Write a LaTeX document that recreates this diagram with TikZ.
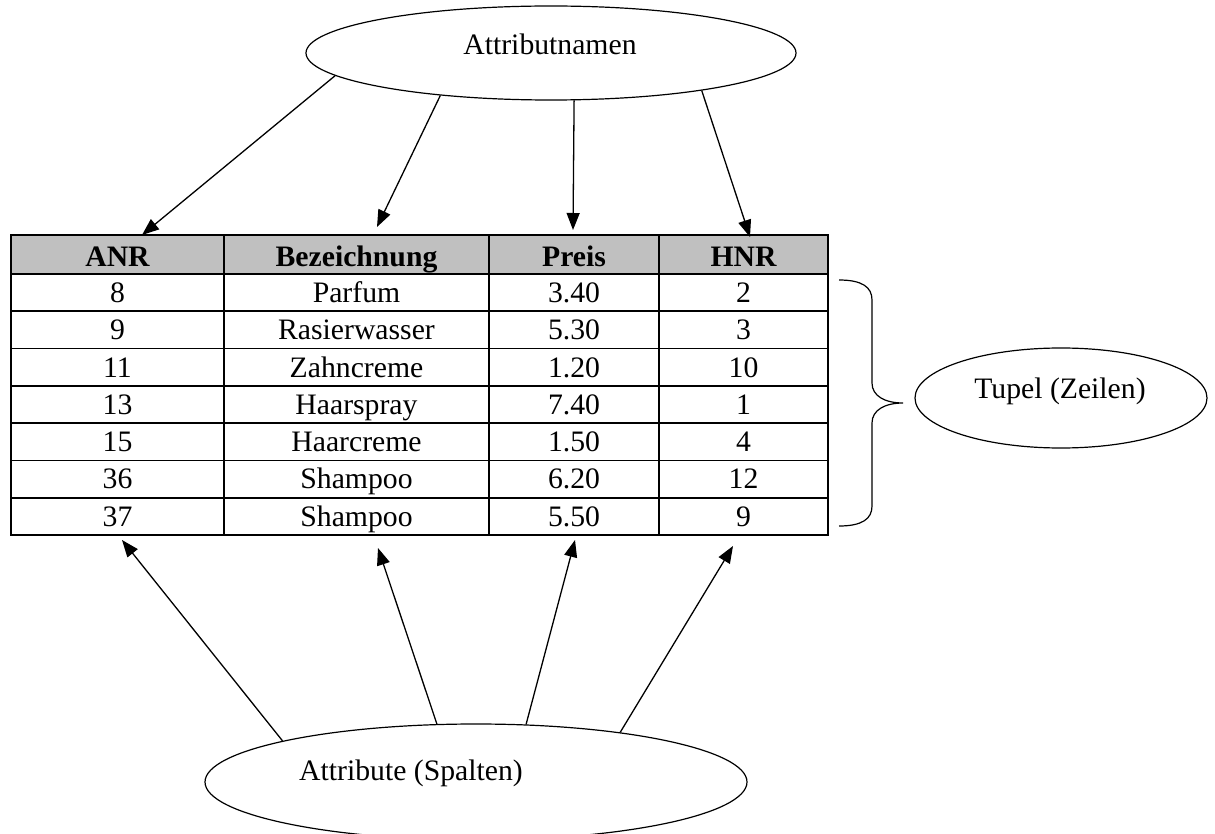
\documentclass[tikz,border=0pt]{standalone}
\usepackage{fontspec}
\setmainfont{Liberation Serif}
\usetikzlibrary{shapes.geometric,arrows.meta}
\definecolor{headgray}{RGB}{192,192,192}
\begin{document}
\begin{tikzpicture}[x=0.5pt,y=-0.5pt,
  font=\fontsize{14.85}{17}\selectfont,
  oval/.style={draw,ellipse,line width=0.6pt,inner sep=0pt},
  pointer/.style={-{Triangle[length=8.5pt,width=6.5pt]},line width=0.65pt},
  caption/.style={anchor=base,inner sep=0pt},
  cell/.style={anchor=base,inner sep=0pt},
  head/.style={cell,font=\fontsize{14.85}{17}\selectfont\bfseries},
  gridline/.style={line width=0.8pt},
  frame/.style={line width=1pt}]
\useasboundingbox (0,0) rectangle (1215,834);

% table: header background, grid and frame
\fill[headgray] (11,235) rectangle (828,274);
\foreach \i in {0,...,6}
  \draw[gridline] (11,{274+37.29*\i}) -- (828,{274+37.29*\i});
\foreach \x in {224,489,659}
  \draw[gridline] (\x,235) -- (\x,535);
\draw[frame] (11,235) rectangle (828,535);

% header row
\node[head] (hA) at (117.5,267) {ANR};
\node[head] (hB) at (356.5,267) {Bezeichnung};
\node[head] (hC) at (574,267) {Preis};
\node[head] (hD) at (743.5,267) {HNR};

% data rows
\foreach \n/\a/\b/\c/\d in {1/8/Parfum/3.40/2, 2/9/Rasierwasser/5.30/3,
    3/11/Zahncreme/1.20/10, 4/13/Haarspray/7.40/1, 5/15/Haarcreme/1.50/4,
    6/36/Shampoo/6.20/12, 7/37/Shampoo/5.50/9} {
  \node[cell] (r\n a) at (117.5,{274+37.29*(\n-0.5)+9.8}) {\a};
  \node[cell] (r\n b) at (356.5,{274+37.29*(\n-0.5)+9.8}) {\b};
  \node[cell] (r\n c) at (574,{274+37.29*(\n-0.5)+9.8}) {\c};
  \node[cell] (r\n d) at (743.5,{274+37.29*(\n-0.5)+9.8}) {\d};
}

% ovals with their captions
\node[oval,minimum width=245pt,minimum height=47pt] (names) at (551,53) {};
\node[caption] (namesText) at (550,55) {Attributnamen};
\node[oval,minimum width=146pt,minimum height=50pt] (tuples) at (1061,398) {};
\node[caption] (tuplesText) at (1060,398) {Tupel (Zeilen)};
\node[oval,minimum width=271pt,minimum height=58pt] (attrs) at (476,782) {};
\node[caption] (attrsText) at (411,780) {Attribute (Spalten)};

% arrow tips at the column heads
\coordinate (tA) at (142,235);
\coordinate (tB) at (377,227);
\coordinate (tC) at (573,230);
\coordinate (tD) at (750,237);
\draw[pointer] (names.186.0) -- (tA);
\draw[pointer] (names.201.2) -- (tB);
\draw[pointer] (names.296.1) -- (tC);
\draw[pointer] (names.346.5) -- (tD);

% arrow tips below the columns
\coordinate (bA) at (122,540);
\coordinate (bB) at (378,548);
\coordinate (bC) at (575,540);
\coordinate (bD) at (733,546);
\draw[pointer] (attrs.168.3) -- (bA);
\draw[pointer] (attrs.124.4) -- (bB);
\draw[pointer] (attrs.49.1) -- (bC);
\draw[pointer] (attrs.19.4) -- (bD);

% curly brace over the data rows
\draw[line width=0.6pt] (839,280) .. controls (862,280) and (872,287) .. (872,300)
  -- (872,383) .. controls (872,396) and (885,403) .. (903,403)
  .. controls (885,403) and (872,410) .. (872,423)
  -- (872,506) .. controls (872,519) and (862,526) .. (839,526);
\end{tikzpicture}
\end{document}
